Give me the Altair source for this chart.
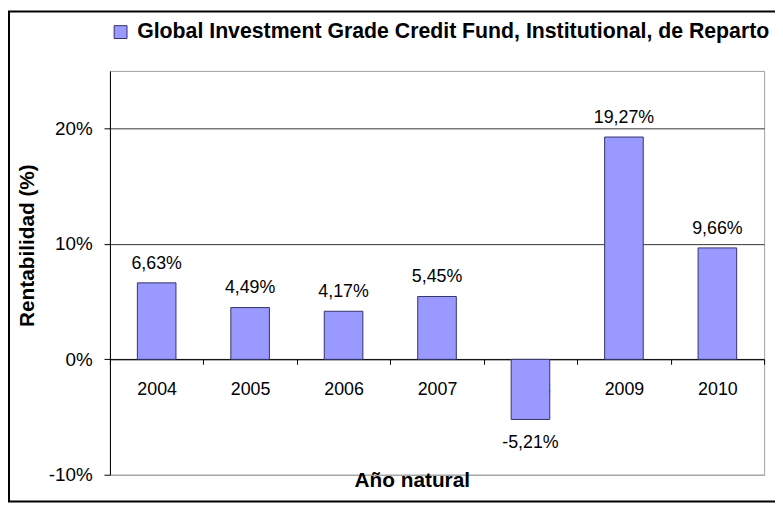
import altair as alt
import pandas as pd

years = ["2004", "2005", "2006", "2007", "2008", "2009", "2010"]
returns = [6.63, 4.49, 4.17, 5.45, -5.21, 19.27, 9.66]
series_name = "Global Investment Grade Credit Fund, Institutional, de Reparto"
y_ticks = [-10, 0, 10, 20]

labels = [f"{v:.2f}".replace(".", ",") + "%" for v in returns]
df = pd.DataFrame({"year": years, "ret": returns, "label": labels, "serie": [series_name] * len(years)})

W, H = 661, 408
FONT = "Liberation Sans"
y_scale = alt.Scale(domain=[-10, 25], nice=False, zero=False)
x_enc = alt.X("year:N", sort=years, scale=alt.Scale(paddingInner=0, paddingOuter=0),
              axis=alt.Axis(title="Año natural", offset=-116.6, tickBand="extent", labelAngle=0,
                            labelFontSize=18, labelColor="black", labelPadding=17,
                            tickSize=5, tickColor="black", domainColor="black",
                            titleFontSize=21, titleFontWeight="bold", titleColor="black",
                            titleX=305, titleY=123, titleBaseline="middle", titleAnchor="start",
                            titleAlign="center", grid=False))

base = alt.Chart(df)

bars = base.mark_bar(size=39, stroke="#333366", strokeWidth=1).encode(
    x=x_enc,
    y=alt.Y("ret:Q", scale=y_scale,
            axis=alt.Axis(values=y_ticks, labelExpr="datum.value + '%'", title="Rentabilidad (%)",
                          labelFontSize=19, labelColor="black", labelPadding=12,
                          tickSize=6, tickColor="black", domainColor="black",
                          gridColor=alt.condition("datum.value == -10", alt.value("#a0a0a0"), alt.value("#333333")),
                          titleFontSize=21, titleFontWeight="bold", titleColor="black",
                          titleX=-83, titleY=176, titleAngle=270, titleBaseline="middle",
                          titleAlign="center")),
    color=alt.Color("serie:N", scale=alt.Scale(range=["#9999FF"]),
                    legend=alt.Legend(orient="none", legendX=0, legendY=-50, title=None,
                                      padding=0, labelFontSize=21.5, labelFontWeight="bold",
                                      labelColor="black", labelLimit=800, labelOffset=6,
                                      symbolType="square", symbolSize=169,
                                      symbolStrokeColor="#333366", symbolStrokeWidth=1)),
)

pos_text = base.transform_filter("datum.ret >= 0").mark_text(
    fontSize=18, dy=-19.5, baseline="middle", color="black").encode(
    x=alt.X("year:N", sort=years), y=alt.Y("ret:Q", scale=y_scale), text="label:N")
neg_text = base.transform_filter("datum.ret < 0").mark_text(
    fontSize=18, dy=23.5, baseline="middle", color="black").encode(
    x=alt.X("year:N", sort=years), y=alt.Y("ret:Q", scale=y_scale), text="label:N")

border = alt.Chart(pd.DataFrame({"a": [0]})).mark_rect(
    fillOpacity=0, stroke="black", strokeWidth=2).encode(
    x=alt.value(-102), x2=alt.value(690), y=alt.value(-60), y2=alt.value(435))

chart = alt.layer(bars, pos_text, neg_text, border).properties(
    width=W, height=H,
    padding={"left": 103, "top": 61, "right": 11, "bottom": 29},
    autosize=alt.AutoSizeParams(type="none"),
).configure(font=FONT).configure_view(stroke="#a0a0a0", strokeWidth=1)

chart.save("out.html", embed_options={"renderer": "svg", "actions": False})
